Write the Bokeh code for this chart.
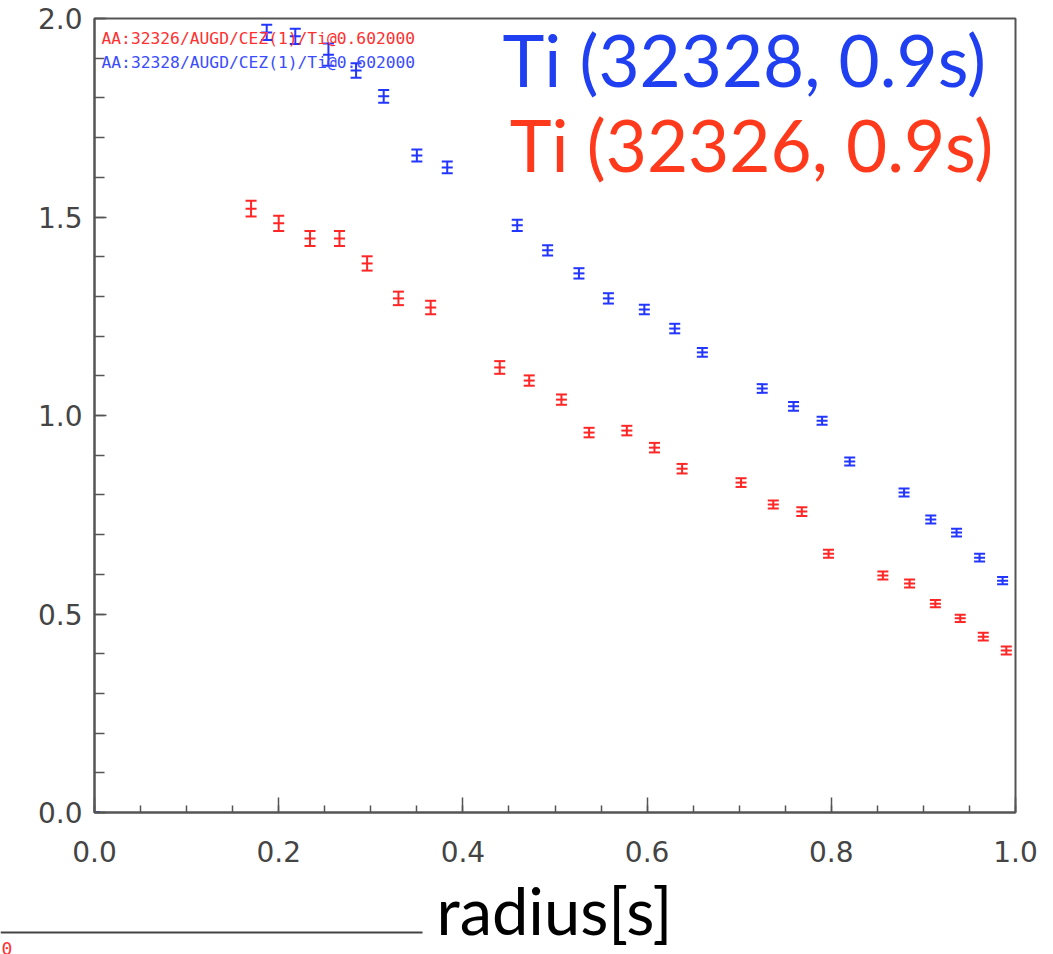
from bokeh.plotting import figure
from bokeh.layouts import column
from bokeh.models import (Range1d, Label, Whisker, TeeHead, ColumnDataSource,
                          FixedTicker)
from bokeh.embed import file_html
from bokeh.resources import INLINE

# ---- data ----
blue_x = [0.0, 0.187, 0.218, 0.254, 0.284, 0.314, 0.350, 0.383, 0.459, 0.492, 0.526,
          0.558, 0.597, 0.630, 0.660, 0.725, 0.759, 0.790, 0.820, 0.879, 0.908,
          0.936, 0.961, 0.986]
blue_y = [0.0, 1.965, 1.955, 1.909, 1.869, 1.804, 1.655, 1.625, 1.479, 1.416, 1.358,
          1.295, 1.267, 1.219, 1.159, 1.068, 1.023, 0.987, 0.884, 0.806, 0.738,
          0.705, 0.642, 0.584]
blue_err = [0.0, 0.019, 0.019, 0.028, 0.018, 0.016, 0.015, 0.015, 0.014, 0.013, 0.013,
            0.013, 0.012, 0.012, 0.011, 0.011, 0.011, 0.010, 0.010, 0.010, 0.010,
            0.010, 0.010, 0.009]

red_x = [0.170, 0.200, 0.234, 0.266, 0.296, 0.330, 0.365, 0.440, 0.472, 0.507, 0.537,
         0.578, 0.608, 0.638, 0.702, 0.737, 0.768, 0.797, 0.856, 0.885, 0.913,
         0.940, 0.965, 0.990]
red_y = [1.521, 1.484, 1.446, 1.446, 1.383, 1.295, 1.272, 1.121, 1.088, 1.040, 0.957,
         0.962, 0.919, 0.866, 0.831, 0.776, 0.758, 0.652, 0.597, 0.577, 0.526,
         0.489, 0.443, 0.408]
red_err = [0.020, 0.019, 0.019, 0.019, 0.018, 0.017, 0.017, 0.016, 0.013, 0.013, 0.012,
           0.012, 0.012, 0.012, 0.011, 0.010, 0.011, 0.010, 0.010, 0.010, 0.009,
           0.009, 0.010, 0.010]

x_ticks = [0.0, 0.2, 0.4, 0.6, 0.8, 1.0]
y_ticks = [0.0, 0.5, 1.0, 1.5, 2.0]
x_label = "radius[s]"

BLUE = "#2236ff"
RED = "#ff2626"
BLUE_T = "#1f3ff0"
RED_T = "#ff3a1c"
AX = "#555555"

TOP_H = 876
p = figure(width=1053, height=TOP_H, output_backend="svg", toolbar_location=None,
           x_range=Range1d(0, 1), y_range=Range1d(0, 2),
           min_border_left=94, min_border_right=38, min_border_top=18,
           min_border_bottom=TOP_H - 812)
p.frame_align = False
p.background_fill_color = "white"
p.border_fill_color = "white"
p.outline_line_color = AX
p.outline_line_width = 2
p.xgrid.visible = False
p.ygrid.visible = False

p.xaxis.ticker = FixedTicker(ticks=x_ticks,
                             minor_ticks=[i * 0.05 for i in range(21)])
p.yaxis.ticker = FixedTicker(ticks=y_ticks,
                             minor_ticks=[i * 0.1 for i in range(21)])
for ax in (p.xaxis, p.yaxis):
    ax.axis_line_color = AX
    ax.axis_line_width = 2
    ax.major_tick_line_color = AX
    ax.minor_tick_line_color = AX
    ax.major_tick_line_width = 1.5
    ax.minor_tick_line_width = 1.5
    ax.major_tick_out = 0
    ax.minor_tick_out = 0
    ax.major_label_text_font = "DejaVu Sans"
    ax.major_label_text_font_size = "28px"
    ax.major_label_text_color = "#444444"
p.xaxis.major_tick_in = 15
p.xaxis.minor_tick_in = 7
p.yaxis.major_tick_in = 12
p.yaxis.minor_tick_in = 10
p.xaxis.major_label_standoff = 28
p.yaxis.major_label_standoff = 12
p.xaxis.major_label_overrides = {t: f"{t:.1f}" for t in x_ticks}
p.yaxis.major_label_overrides = {t: f"{t:.1f}" for t in y_ticks}


def add_series(xs, ys, es, color):
    src = ColumnDataSource(dict(x=xs, y=ys,
                                lo=[a - b for a, b in zip(ys, es)],
                                hi=[a + b for a, b in zip(ys, es)]))
    w = Whisker(base="x", lower="lo", upper="hi", source=src,
                line_color=color, line_width=2,
                upper_head=TeeHead(size=11, line_color=color, line_width=2),
                lower_head=TeeHead(size=11, line_color=color, line_width=2))
    p.add_layout(w)
    p.scatter("x", "y", source=src, marker="dash", size=11,
              line_color=color, line_width=2)


add_series(red_x, red_y, red_err, RED)
add_series(blue_x, blue_y, blue_err, BLUE)

# small header texts
p.add_layout(Label(x=0.0076, y=1.950, text="AA:32326/AUGD/CEZ(1)/Ti@0.602000",
                   text_font="DejaVu Sans Mono", text_font_size="16.3px",
                   text_color="#ff3030", text_baseline="middle"))
p.add_layout(Label(x=0.0076, y=1.889, text="AA:32328/AUGD/CEZ(1)/Ti@0.602000",
                   text_font="DejaVu Sans Mono", text_font_size="16.3px",
                   text_color="#3a4cff", text_baseline="middle"))

# big titles
p.add_layout(Label(x=0.443, y=1.8967, text="Ti (32328, 0.9s)",
                   text_font="Lato", text_font_size="71px",
                   text_color=BLUE_T, text_baseline="alphabetic"))
p.add_layout(Label(x=0.451, y=1.6826, text="Ti (32326, 0.9s)",
                   text_font="Lato", text_font_size="71px",
                   text_color=RED_T, text_baseline="alphabetic"))

# ---- bottom strip: x label, stray line, red glyph ----
BOT_H = 954 - TOP_H
q = figure(width=1053, height=BOT_H, output_backend="svg", toolbar_location=None,
           x_range=Range1d(0, 1053), y_range=Range1d(BOT_H, 0),
           x_axis_location=None, y_axis_location=None,
           min_border=0, min_border_left=0, min_border_right=0,
           min_border_top=0, min_border_bottom=0)
q.frame_align = False
q.grid.visible = False
q.outline_line_color = None
q.background_fill_color = "white"
q.border_fill_color = "white"

q.add_layout(Label(x=436, y=935 - TOP_H - 26, text=x_label, text_font="Lato",
                   text_font_size="65px", text_color="black",
                   text_baseline="alphabetic"))
q.segment(x0=[0], y0=[932 - TOP_H], x1=[422], y1=[932 - TOP_H],
          line_color="#444444", line_width=2)
q.add_layout(Label(x=1, y=941 - TOP_H, text="0", text_font="DejaVu Sans Mono",
                   text_font_size="18px", text_color="#ff3030",
                   text_baseline="top"))

layout = column(p, q, spacing=0)
open("out.html", "w").write(file_html(layout, INLINE))
